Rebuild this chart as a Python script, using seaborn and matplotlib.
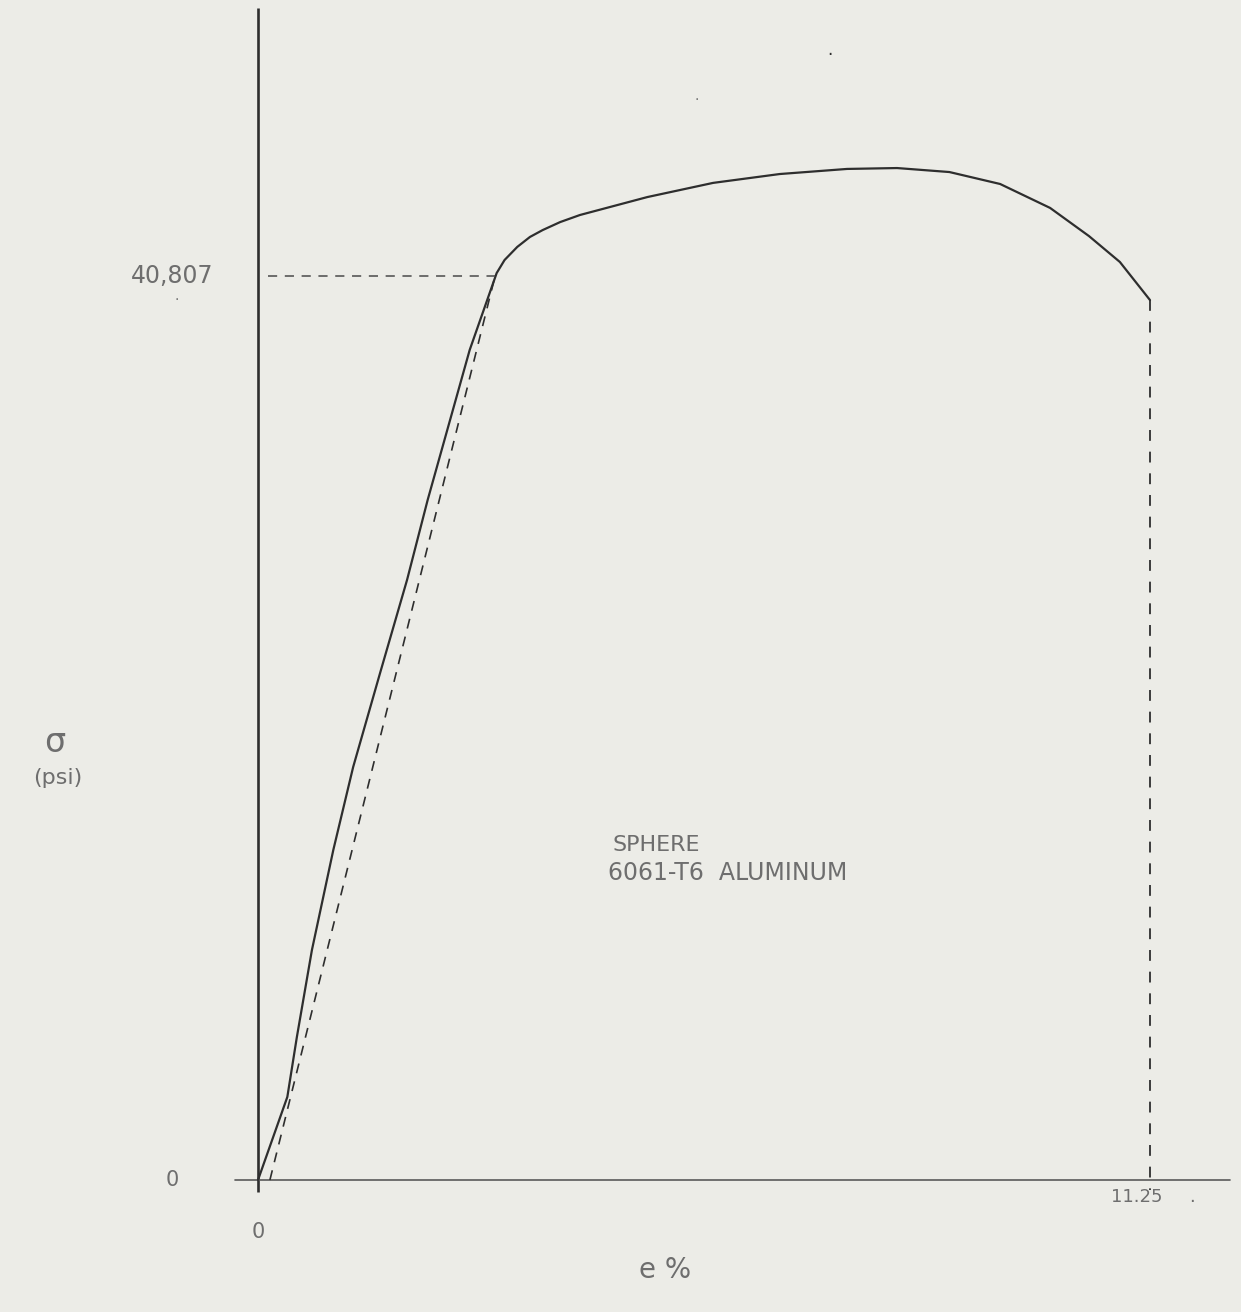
import numpy as np
import pandas as pd
import matplotlib
matplotlib.use("Agg")
import matplotlib.pyplot as plt
import seaborn as sns

# ---- data ----
strain = [0, 0.37, 0.49, 0.68, 0.95, 1.20, 1.54, 1.88, 2.14, 2.67, 3.01, 3.11, 3.27, 3.43,
          3.59, 3.81, 4.06, 4.91, 5.74, 6.58, 7.43, 8.06, 8.72, 9.36, 9.99, 10.48, 10.87, 11.25]
stress = [0, 3750, 6450, 10380, 14900, 18640, 22890, 27090, 30700, 37470, 40940, 41530, 42120, 42570,
          42880, 43240, 43560, 44370, 45010, 45410, 45640, 45680, 45500, 44960, 43880, 42610, 41440, 39720]
offset_strain = [0.15, 2.99]
offset_stress = [0, 40807]
yield_stress = 40807
fracture_strain = 11.25
fracture_stress = 39720
ytick_labels = ["0", "40,807"]
xtick_labels = ["0", "11.25"]

sns.set_theme(style="white")
plt.rcParams['font.family'] = ['DejaVu Sans']

W, H = 1241, 1312
fig = plt.figure(figsize=(W / 100, H / 100), dpi=100)
bg = "#ecece7"
fig.patch.set_facecolor(bg)
ax = fig.add_axes([0, 0, 1, 1])
ax.set_facecolor(bg)

# pixel mapping: x=0 -> 258px, x=11.25 -> 1150px ; y=0 -> 1180px, y=40807 -> 276px
px0, pxs = 258, (1150 - 258) / 11.25
py0, pys = 1180, (1180 - 276) / 40807
ax.set_xlim(-px0 / pxs, (W - px0) / pxs)
ax.set_ylim((py0 - H) / pys, py0 / pys)
ax.axis("off")

def dx(p):
    return (p - px0) / pxs

def dy(p):
    return (py0 - p) / pys

ink = "#2e2e2e"
# axes lines
ax.plot([0, 0], [dy(1192), dy(8)], color=ink, lw=1.9, solid_capstyle="butt")
ax.plot([dx(235), dx(1230)], [0, 0], color="#5a5a5a", lw=1.2)

# main curve
df = pd.DataFrame({"strain": strain, "stress": stress})
sns.lineplot(data=df, x="strain", y="stress", ax=ax, color=ink, lw=1.6,
             sort=False, estimator=None)

# offset dashed line
ax.plot(offset_strain, offset_stress, color=ink, lw=1.2, dashes=(6, 5))
# horizontal dashed at yield
ax.plot([dx(268), offset_strain[1]], [yield_stress, yield_stress], color="#4a4a4a",
        lw=1.1, dashes=(6, 5))
# vertical dashed at fracture
ax.plot([fracture_strain, fracture_strain], [fracture_stress, dy(1190)], color=ink,
        lw=1.3, dashes=(6, 6))

def ftext(x, y, s, **kw):
    fig.text(x / W, 1 - y / H, s, **kw)

grey = "#6e6e6e"
ftext(172, 276, ytick_labels[1], fontsize=17, color=grey, ha="center", va="center")
ftext(172, 1180, ytick_labels[0], fontsize=15, color=grey, ha="center", va="center")
ftext(258, 1232, xtick_labels[0], fontsize=15, color=grey, ha="center", va="center")
ftext(1137, 1197, xtick_labels[1], fontsize=13, color=grey, ha="center", va="center")
ftext(1192, 1197, ".", fontsize=13, color=grey, ha="center", va="center")
ftext(177, 296, ".", fontsize=10, color=grey, ha="center", va="center")
ftext(830, 50, ".", fontsize=12, color=ink, ha="center", va="center")
ftext(697, 96, ".", fontsize=10, color=grey, ha="center", va="center")

ftext(55, 742, "σ", fontsize=24, color=grey, ha="center", va="center")
ftext(58, 778, "(psi)", fontsize=16, color=grey, ha="center", va="center")
ftext(665, 1270, "e %", fontsize=20, color=grey, ha="center", va="center")

ftext(613, 845, "SPHERE", fontsize=16, color=grey, ha="left", va="center")
ftext(608, 873, "6061-T6  ALUMINUM", fontsize=17, color=grey, ha="left", va="center")

fig.savefig("out.png", dpi=100, facecolor=bg)
